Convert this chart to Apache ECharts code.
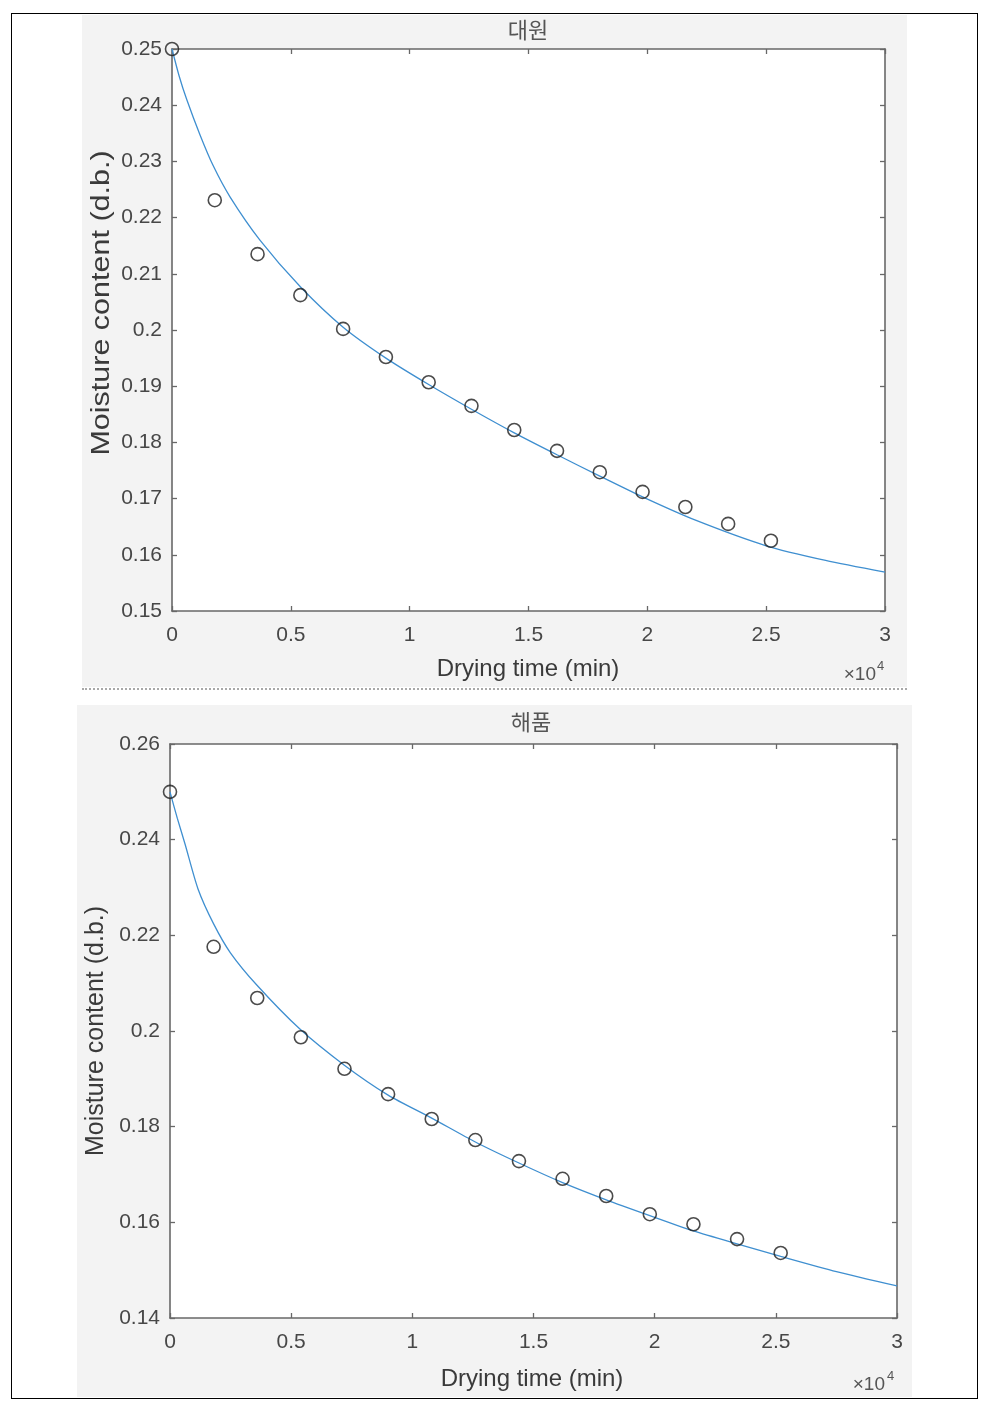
<!DOCTYPE html>
<html><head><meta charset="utf-8">
<script src="https://cdn.jsdelivr.net/npm/echarts@6/dist/echarts.min.js"></script>
<style>
html,body{margin:0;padding:0;background:#fff;}
#wrap{position:relative;width:991px;height:1406px;overflow:hidden;}
.panel{position:absolute;background:#f3f3f3;}
#border{position:absolute;left:11px;top:13px;width:967px;height:1386px;border:1.5px solid #000;box-sizing:border-box;}
#sep{position:absolute;left:82px;top:688px;width:825px;height:0;border-top:2px dotted #a8a8a8;}
#chart{position:absolute;left:0;top:0;width:991px;height:1406px;}
</style></head>
<body><div id="wrap">
<div class="panel" style="left:82px;top:15px;width:825px;height:672px"></div>
<div class="panel" style="left:77px;top:705px;width:835px;height:692px"></div>
<div id="sep"></div>
<div id="border"></div>
<div id="chart"></div>
</div>
<script>
// ---- data (drying time in minutes) ----
const obsTime = [0,1800,3600,5400,7200,9000,10800,12600,14400,16200,18000,19800,21600,23400,25200];
const daewonObs = [0.2500,0.2231,0.2135,0.2062,0.2002,0.1952,0.1907,0.1865,0.1822,0.1785,0.1747,0.1712,0.1685,0.1655,0.1625];
const haepumObs = [0.2500,0.2176,0.2069,0.1987,0.1921,0.1868,0.1816,0.1772,0.1728,0.1691,0.1655,0.1617,0.1596,0.1565,0.1536];

const fitTimeDaewon = [0,300,620,1180,1725,2440,3700,5400,7200,9000,10800,12600,14400,16200,18000,19800,22000,25000,27500,30000];
const fitDaewon = [0.2500,0.2452,0.2410,0.2347,0.2293,0.2237,0.2160,0.2077,0.2005,0.1950,0.1903,0.1859,0.1817,0.1778,0.1740,0.1703,0.1662,0.1616,0.1590,0.1569];

const fitTimeHaepum = [0,300,620,1156,1800,2500,3600,5360,7180,9000,10800,12600,14400,16200,18000,19800,21600,23400,25200,27500,30000];
const fitHaepum = [0.2500,0.2445,0.2391,0.2297,0.2224,0.2163,0.2095,0.2004,0.1929,0.1866,0.1818,0.1768,0.1724,0.1683,0.1647,0.1614,0.1582,0.1555,0.1529,0.1497,0.1467];

const titles = ['대원','해품'];
const xLabel = 'Drying time (min)';
const yLabel = 'Moisture content (d.b.)';
const xExpLabel = '×10';
const xExpPower = '4';

// ---- helpers ----
const pair = (xs, ys) => xs.map((x, i) => [x, ys[i]]);
const FONT = 'Liberation Sans, Arial, Helvetica, sans-serif';
const AX = '#686868';
const LBL = '#474747';

function xAxes(gridIndex, isTop) {
  return {
    type: 'value', gridIndex, position: isTop ? 'top' : 'bottom',
    min: 0, max: 30000, interval: 5000,
    axisLine: { show: true, onZero: false, lineStyle: { color: AX, width: 1.6 } },
    axisTick: { show: true, inside: true, length: 5, lineStyle: { color: AX, width: 1.3 } },
    axisLabel: { show: !isTop, margin: 14, fontSize: 21, color: LBL, fontFamily: FONT,
      formatter: v => String(v / 10000) },
    splitLine: { show: false }
  };
}
function yAxes(gridIndex, isRight, min, max, interval) {
  return {
    type: 'value', gridIndex, position: isRight ? 'right' : 'left',
    min, max, interval,
    axisLine: { show: true, onZero: false, lineStyle: { color: AX, width: 1.6 } },
    axisTick: { show: true, inside: true, length: 5, lineStyle: { color: AX, width: 1.3 } },
    axisLabel: { show: !isRight, margin: 10, fontSize: 21, color: LBL, fontFamily: FONT,
      formatter: v => String(+v.toFixed(2)) },
    splitLine: { show: false }
  };
}
function scatter(xi, yi, data) {
  return { type: 'scatter', xAxisIndex: xi, yAxisIndex: yi, data, clip: false,
    symbol: 'circle', symbolSize: 13, z: 3,
    itemStyle: { color: 'transparent', borderColor: '#1e1e1e', borderWidth: 1.6 } };
}
function fitLine(xi, yi, data) {
  return { type: 'line', xAxisIndex: xi, yAxisIndex: yi, data, showSymbol: false,
    smooth: 0.25, z: 2,
    lineStyle: { color: '#3f8fd0', width: 1.3 } };
}
function txt(text, x, y, size, opts) {
  opts = opts || {};
  return Object.assign({ type: 'text', x, y, silent: true,
    style: { text, fontSize: size, fontFamily: opts.family || FONT, fill: opts.fill || '#3a3a3a',
      align: opts.align || 'center', verticalAlign: opts.valign || 'middle',
      textAlign: opts.align || 'center', textVerticalAlign: opts.valign || 'middle' } },
    opts.extra || {});
}

const chart = echarts.init(document.getElementById('chart'), null, { renderer: 'canvas' });
chart.setOption({
  backgroundColor: 'transparent',
  animation: false,
  grid: [
    { left: 172, top: 49, width: 713, height: 562, show: true, backgroundColor: '#ffffff', borderWidth: 0 },
    { left: 170, top: 744, width: 727, height: 574, show: true, backgroundColor: '#ffffff', borderWidth: 0 }
  ],
  xAxis: [xAxes(0, false), xAxes(0, true), xAxes(1, false), xAxes(1, true)],
  yAxis: [yAxes(0, false, 0.15, 0.25, 0.01), yAxes(0, true, 0.15, 0.25, 0.01),
          yAxes(1, false, 0.14, 0.26, 0.02), yAxes(1, true, 0.14, 0.26, 0.02)],
  series: [
    fitLine(0, 0, pair(fitTimeDaewon, fitDaewon)),
    scatter(0, 0, pair(obsTime, daewonObs)),
    fitLine(2, 2, pair(fitTimeHaepum, fitHaepum)),
    scatter(2, 2, pair(obsTime, haepumObs))
  ],
  graphic: [
    txt(titles[0], 528, 30, 22, { family: 'Noto Sans CJK KR', fill: '#555' }),
    txt(titles[1], 531, 722, 22, { family: 'Noto Sans CJK KR', fill: '#555' }),
    txt(xLabel, 528, 669, 24),
    txt(xLabel, 532, 1379, 24),
    txt(yLabel, 102, 303, 25, { extra: { rotation: Math.PI / 2, scaleX: 1.22 } }),
    txt(yLabel, 96, 1031, 25, { extra: { rotation: Math.PI / 2 } }),
    txt(xExpLabel, 876, 675, 19, { align: 'right', fill: '#555' }),
    txt(xExpPower, 877, 666, 13, { align: 'left', fill: '#555' }),
    txt(xExpLabel, 885, 1385, 19, { align: 'right', fill: '#555' }),
    txt(xExpPower, 887, 1376, 13, { align: 'left', fill: '#555' })
  ]
});
</script>
</body></html>
